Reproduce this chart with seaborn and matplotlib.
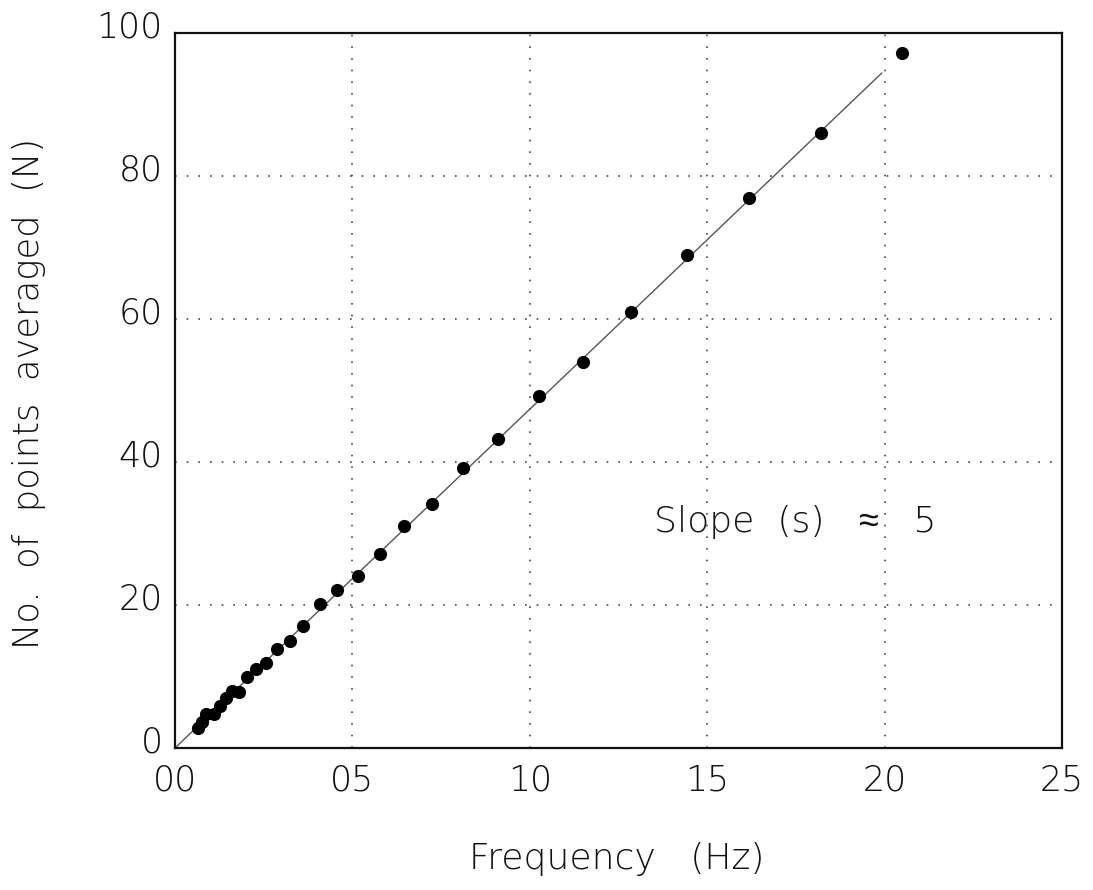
import matplotlib
matplotlib.use("Agg")
import matplotlib.pyplot as plt
import matplotlib.transforms as mtransforms
import seaborn as sns
import pandas as pd

# Data
freq = [0.66, 0.75, 0.87, 1.11, 1.27, 1.43, 1.60, 1.81, 2.02, 2.28, 2.56, 2.88,
        3.24, 3.62, 4.09, 4.58, 5.15, 5.78, 6.45, 7.24, 8.12, 9.10, 10.26,
        11.50, 12.85, 14.43, 16.18, 18.20, 20.49]
npts = [2.8, 3.7, 4.8, 4.8, 5.9, 7.0, 8.0, 7.9, 10.0, 11.0, 11.9, 13.9,
        15.0, 17.0, 20.1, 22.1, 24.1, 27.1, 31.0, 34.1, 39.2, 43.2, 49.2,
        54.0, 61.0, 69.0, 76.9, 86.0, 97.2]
fit_x = [0.0, 19.92]
fit_y = [0.0, 94.4]
x_ticks = [0, 5, 10, 15, 20, 25]
x_tick_labels = ["00", "05", "10", "15", "20", "25"]
y_ticks = [0, 20, 40, 60, 80, 100]
y_tick_labels = ["0", "20", "40", "60", "80", "100"]

sns.set_style("white")
plt.rcParams['font.family'] = ['DejaVu Sans', 'Liberation Sans']
plt.rcParams['font.weight'] = 'light'
plt.rcParams['axes.labelweight'] = 'light'

fig = plt.figure(figsize=(10.93, 8.90), dpi=100)
ax = fig.add_axes([175/1093, 1 - 748/890, (1062-175)/1093, (748-33)/890])

df = pd.DataFrame({"f": freq, "n": npts})
fit = pd.DataFrame({"x": fit_x, "y": fit_y})

sns.lineplot(data=fit, x="x", y="y", ax=ax, color="#555555", linewidth=1.0, zorder=2)
sns.scatterplot(data=df, x="f", y="n", ax=ax, color="black", s=90, edgecolor="black",
                linewidth=0, zorder=3)

ax.set_xlim(0, 25)
ax.set_ylim(0, 100)
ax.set_xticks(x_ticks)
ax.set_xticklabels(x_tick_labels)
ax.set_yticks(y_ticks)
ax.set_yticklabels(y_tick_labels)
ax.tick_params(axis='both', labelsize=25, length=0, labelcolor="#111111")
ax.tick_params(axis='x', pad=11)
ax.tick_params(axis='y', pad=9)

# y tick labels sit slightly above their grid lines in the reference
up = mtransforms.ScaledTranslation(0, 9 / 100, fig.dpi_scale_trans)
for lab in ax.get_yticklabels():
    lab.set_transform(lab.get_transform() + up)

for v in x_ticks[1:-1]:
    ax.axvline(v, color="#444444", linestyle=(0, (1, 6)), linewidth=1.2, zorder=1)
for v in y_ticks[1:-1]:
    ax.axhline(v, color="#444444", linestyle=(0, (1, 6)), linewidth=1.2, zorder=1)

for s in ax.spines.values():
    s.set_visible(True)
    s.set_color("#111111")
    s.set_linewidth(1.6)

ax.set_xlabel("Frequency   (Hz)", fontsize=26, color="#111111", va="center", ha="center")
ax.set_ylabel("No.  of  points  averaged  (N)", fontsize=25.5, color="#111111",
              va="center", ha="center")
ax.xaxis.set_label_coords((617 - 175) / 887, (748 - 859) / 715)
ax.yaxis.set_label_coords((29 - 175) / 887, (748 - 393) / 715)

ax.text(13.5, 31.6, "Slope  (s)   \u2248   5", fontsize=26, va="center", ha="left",
        color="#111111")

fig.savefig("out.png", dpi=100)
